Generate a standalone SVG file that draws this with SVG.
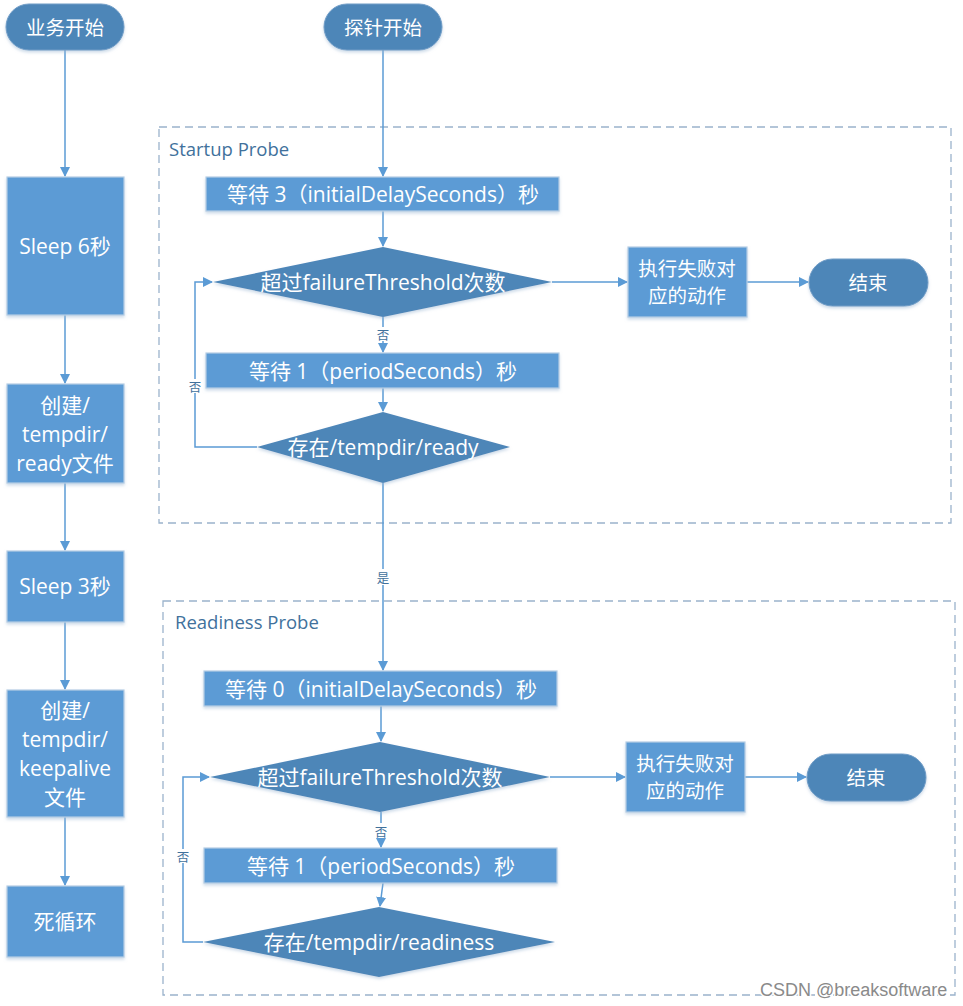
<svg xmlns="http://www.w3.org/2000/svg" width="963" height="1006" viewBox="0 0 963 1006">
<defs>
<marker id="ah" markerWidth="10" markerHeight="10" refX="9" refY="5" orient="auto" markerUnits="userSpaceOnUse">
<path d="M0,0 L10,5 L0,10 z" fill="#5b9bd5"/>
</marker>
<filter id="sh" x="-10%" y="-10%" width="130%" height="140%">
<feDropShadow dx="0" dy="2" stdDeviation="1.5" flood-color="#9db7d3" flood-opacity="0.5"/>
</filter>
</defs>
<style>
.pill{fill:#4e86b8;stroke:#6f9cc6;stroke-width:1;filter:url(#sh)}
.box{fill:#5b9bd5;stroke:#b6cde4;stroke-width:1.2;filter:url(#sh)}
.dia{fill:#4e86b8;filter:url(#sh)}
.t{fill:#ffffff;font-family:"Open Sans","Noto Sans CJK SC",sans-serif;font-size:21px;text-anchor:middle;dominant-baseline:central}
.s{font-size:19.5px}
.grp{fill:none;stroke:#9bb3cc;stroke-width:1.3;stroke-dasharray:8 5}
.gl{fill:#41719c;font-family:"Open Sans","Noto Sans CJK SC",sans-serif;font-size:18.5px}
.c{fill:none;stroke:#5b9bd5;stroke-width:1.5}
.ca{fill:none;stroke:#5b9bd5;stroke-width:1.5;marker-end:url(#ah)}
.lb{fill:#41719c;font-family:"Noto Sans CJK SC",sans-serif;font-size:12.5px;text-anchor:middle;dominant-baseline:central}
.wm{fill:#8a8a8a;font-family:"Liberation Sans",sans-serif;font-size:18px}
</style>

<g id="startup-group">
<rect class="grp" x="159" y="127" width="792" height="396"/>
<text class="gl" x="169" y="156">Startup Probe</text>
</g>
<g id="readiness-group">
<rect class="grp" x="163" y="601" width="792" height="394"/>
<text class="gl" x="175" y="629">Readiness Probe</text>
</g>

<g id="connectors">
<path class="ca" d="M65,50 V176"/>
<path class="ca" d="M65,315 V383"/>
<path class="ca" d="M65,483 V550"/>
<path class="ca" d="M65,622 V689"/>
<path class="ca" d="M65,817 V885"/>

<path class="ca" d="M383,50 V176"/>
<path class="ca" d="M383,211 V246"/>
<path class="c" d="M383,317 V327"/>
<path class="ca" d="M383,341 V352"/>
<path class="ca" d="M383,388 V411"/>
<path class="c" d="M257,447 H195 V393"/>
<path class="ca" d="M195,379 V282 H212"/>
<path class="ca" d="M552,282 H627"/>
<path class="ca" d="M747,282 H808"/>
<path class="c" d="M383,483 V569"/>
<path class="ca" d="M383,585 V670"/>

<path class="ca" d="M381,706 V741"/>
<path class="c" d="M381,812 V823"/>
<path class="ca" d="M381,838 V847"/>
<path class="ca" d="M383,883 L380,906"/>
<path class="c" d="M203,942 H183 V863"/>
<path class="ca" d="M183,849 V777 H209"/>
<path class="ca" d="M550,777 H625"/>
<path class="ca" d="M745,777 H806"/>

<text class="lb" x="383" y="334">否</text>
<text class="lb" x="195" y="386">否</text>
<text class="lb" x="383" y="577">是</text>
<text class="lb" x="381" y="831">否</text>
<text class="lb" x="183" y="856">否</text>
</g>

<g id="biz-start"><rect class="pill" x="6" y="4" width="118" height="46" rx="23"/><text class="t s" x="65" y="27">业务开始</text></g>
<g id="sleep6"><rect class="box" x="7" y="177" width="117" height="138"/><text class="t" x="65" y="246">Sleep 6秒</text></g>
<g id="create-ready"><rect class="box" x="7" y="384" width="117" height="99"/>
<text class="t" x="65" y="405">创建/</text><text class="t" x="65" y="434">tempdir/</text><text class="t" x="65" y="463">ready文件</text></g>
<g id="sleep3"><rect class="box" x="7" y="551" width="117" height="71"/><text class="t" x="65" y="586">Sleep 3秒</text></g>
<g id="create-keepalive"><rect class="box" x="7" y="690" width="117" height="127"/>
<text class="t" x="65" y="710">创建/</text><text class="t" x="65" y="739">tempdir/</text><text class="t" x="65" y="768">keepalive</text><text class="t" x="65" y="797">文件</text></g>
<g id="dead-loop"><rect class="box" x="7" y="886" width="117" height="71"/><text class="t" x="65" y="921">死循环</text></g>

<g id="probe-start"><rect class="pill" x="324" y="4" width="118" height="46" rx="23"/><text class="t s" x="383" y="27">探针开始</text></g>

<g id="s-wait3"><rect class="box" x="206" y="177" width="353" height="34"/><text class="t" x="383" y="194">等待 3（initialDelaySeconds）秒</text></g>
<g id="s-exceed"><polygon class="dia" points="383,247 552,282 383,317 213,282"/><text class="t" x="383" y="282">超过failureThreshold次数</text></g>
<g id="s-wait1"><rect class="box" x="206" y="353" width="353" height="35"/><text class="t" x="383" y="371">等待 1（periodSeconds）秒</text></g>
<g id="s-exists"><polygon class="dia" points="383,412 510,447 383,483 257,447"/><text class="t" x="383" y="447">存在/tempdir/ready</text></g>
<g id="s-fail"><rect class="box" x="628" y="247" width="119" height="70"/><text class="t s" x="687" y="268">执行失败对</text><text class="t s" x="687" y="295">应的动作</text></g>
<g id="s-end"><rect class="pill" x="809" y="259" width="119" height="47" rx="23.5"/><text class="t s" x="868" y="282">结束</text></g>

<g id="r-wait0"><rect class="box" x="204" y="671" width="353" height="35"/><text class="t" x="381" y="689">等待 0（initialDelaySeconds）秒</text></g>
<g id="r-exceed"><polygon class="dia" points="380,742 550,777 380,812 210,777"/><text class="t" x="380" y="777">超过failureThreshold次数</text></g>
<g id="r-wait1"><rect class="box" x="204" y="848" width="353" height="35"/><text class="t" x="381" y="866">等待 1（periodSeconds）秒</text></g>
<g id="r-exists"><polygon class="dia" points="379,907 555,942 379,977 203,942"/><text class="t" x="379" y="942">存在/tempdir/readiness</text></g>
<g id="r-fail"><rect class="box" x="626" y="742" width="119" height="70"/><text class="t s" x="685" y="763">执行失败对</text><text class="t s" x="685" y="790">应的动作</text></g>
<g id="r-end"><rect class="pill" x="807" y="754" width="119" height="47" rx="23.5"/><text class="t s" x="866" y="777">结束</text></g>

<text class="wm" x="760" y="996" stroke="#ffffff" stroke-width="3" paint-order="stroke">CSDN @breaksoftware</text>
</svg>
